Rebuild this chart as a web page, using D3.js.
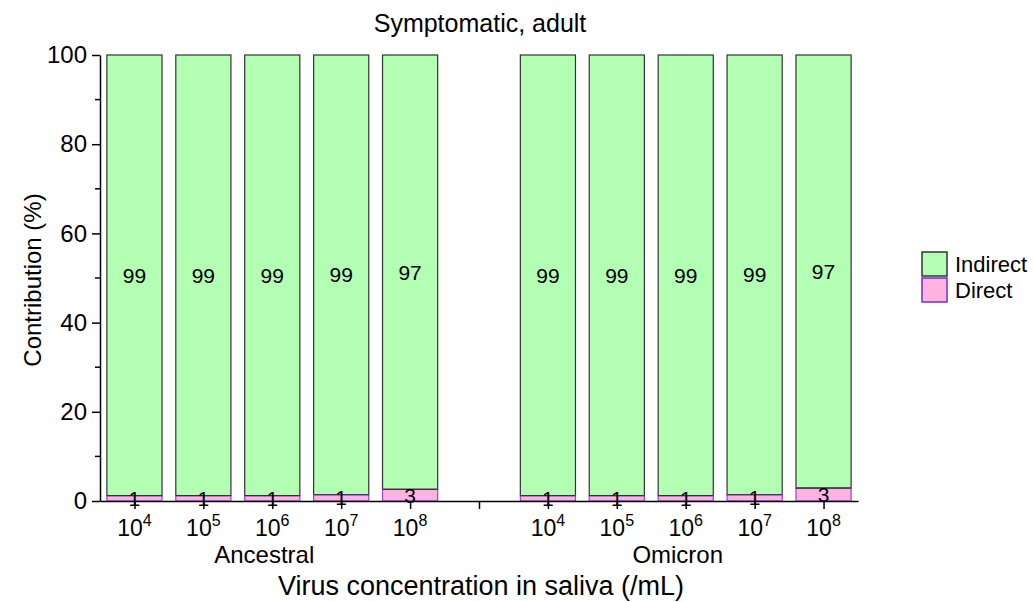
<!DOCTYPE html>
<html>
<head>
<meta charset="utf-8">
<script src="https://cdn.jsdelivr.net/npm/d3@7"></script>
<style>
body { margin: 0; background: #fff; }
text { font-family: "Liberation Sans", Arial, sans-serif; fill: #000; }
</style>
</head>
<body>
<svg id="chart" width="1033" height="602"></svg>
<script>
// data
var groups = ["Ancestral", "Omicron"];
var exponents = [4, 5, 6, 7, 8];
var directAncestral = [1.2, 1.2, 1.2, 1.4, 2.6];
var directOmicron = [1.2, 1.2, 1.2, 1.4, 2.9];
var indirectLabelsAncestral = ["99", "99", "99", "99", "97"];
var indirectLabelsOmicron = ["99", "99", "99", "99", "97"];
var directLabelsAncestral = ["1", "1", "1", "1", "3"];
var directLabelsOmicron = ["1", "1", "1", "1", "3"];
var yTicks = [0, 20, 40, 60, 80, 100];
var yMinor = [10, 30, 50, 70, 90];

var green = "#b3ffb3", pink = "#ffb3e0";

var svg = d3.select("#chart"),
margin = {top: 55, left: 100, right: 173, bottom: 101},
width = 1033 - margin.left - margin.right,
height = 602 - margin.top - margin.bottom;

var g = svg.append("g").attr("transform", "translate(" + margin.left + "," + margin.top + ")");

var x = d3.scaleLinear().domain([0.5, 11.5]).range([0, 758]);
var y = d3.scaleLinear().domain([0, 100]).range([446, 0]);

// build rows: position 1..5 ancestral, 7..11 omicron (6 is the gap)
var rows = [];
exponents.forEach(function(e, i) {
  rows.push({pos: i + 1, exp: e, direct: directAncestral[i], li: indirectLabelsAncestral[i], ld: directLabelsAncestral[i]});
});
exponents.forEach(function(e, i) {
  rows.push({pos: i + 7, exp: e, direct: directOmicron[i], li: indirectLabelsOmicron[i], ld: directLabelsOmicron[i]});
});

var bw = (x(2) - x(1)) * 0.8;

// indirect (green) on top
g.selectAll(".ind").data(rows).enter().append("rect")
  .attr("x", function(d) { return x(d.pos) - bw / 2; })
  .attr("y", y(100))
  .attr("width", bw)
  .attr("height", function(d) { return y(d.direct) - y(100); })
  .attr("fill", green).attr("stroke", "#333").attr("stroke-width", 1.2);

g.selectAll(".dir").data(rows).enter().append("rect")
  .attr("x", function(d) { return x(d.pos) - bw / 2; })
  .attr("y", function(d) { return y(d.direct); })
  .attr("width", bw)
  .attr("height", function(d) { return y(0) - y(d.direct); })
  .attr("fill", pink).attr("stroke", "#a040d0").attr("stroke-width", 1.2);

// line between segments
g.selectAll(".sep").data(rows).enter().append("line")
  .attr("x1", function(d) { return x(d.pos) - bw / 2; })
  .attr("x2", function(d) { return x(d.pos) + bw / 2; })
  .attr("y1", function(d) { return y(d.direct); })
  .attr("y2", function(d) { return y(d.direct); })
  .attr("stroke", "#333").attr("stroke-width", 1.2);

// value labels
g.selectAll(".li").data(rows).enter().append("text")
  .attr("x", function(d) { return x(d.pos); })
  .attr("y", function(d) { return y((100 + d.direct) / 2); })
  .attr("dy", "0.35em")
  .attr("text-anchor", "middle")
  .attr("font-size", 21)
  .text(function(d) { return d.li; });

g.selectAll(".ld").data(rows).enter().append("text")
  .attr("x", function(d) { return x(d.pos); })
  .attr("y", function(d) { return y(d.direct / 2); })
  .attr("dy", "0.35em")
  .attr("text-anchor", "middle")
  .attr("font-size", 21)
  .text(function(d) { return d.ld; });

// y axis
var yAxis = g.append("g")
  .call(d3.axisLeft(y).tickValues(yTicks).tickSize(8).tickPadding(5).tickSizeOuter(0));
yAxis.selectAll("text").attr("font-size", 24).style("font-family", "Liberation Sans, Arial, sans-serif");
yAxis.select(".domain").attr("stroke-width", 1.5);
yAxis.selectAll(".tick line").attr("stroke-width", 1.5);
g.selectAll(".yminor").data(yMinor).enter().append("line")
  .attr("x1", -5).attr("x2", 0)
  .attr("y1", function(d) { return y(d); }).attr("y2", function(d) { return y(d); })
  .attr("stroke", "#000").attr("stroke-width", 1.5);

// x axis
var xAxis = g.append("g")
  .attr("transform", "translate(0," + y(0) + ")")
  .call(d3.axisBottom(x).tickValues(d3.range(1, 12)).tickSize(8).tickSizeOuter(0).tickFormat(""));
xAxis.select(".domain").attr("stroke-width", 1.5);
xAxis.selectAll(".tick line").attr("stroke-width", 1.5);

var xl = g.selectAll(".xl").data(rows).enter().append("text")
  .attr("x", function(d) { return x(d.pos); })
  .attr("y", y(0) + 35)
  .attr("text-anchor", "middle")
  .attr("font-size", 23);
xl.append("tspan").text("10");
xl.append("tspan").attr("dy", -10).attr("font-size", 16).text(function(d) { return d.exp; });

g.selectAll(".grp").data(groups).enter().append("text")
  .attr("x", function(d, i) { return x(i * 6 + 3) - 8; })
  .attr("y", y(0) + 62)
  .attr("text-anchor", "middle")
  .attr("font-size", 24)
  .text(function(d) { return d; });

// titles
svg.append("text").attr("x", 480).attr("y", 32).attr("text-anchor", "middle")
  .attr("font-size", 25).text("Symptomatic, adult");
svg.append("text").attr("x", 481).attr("y", 595).attr("text-anchor", "middle")
  .attr("font-size", 27).text("Virus concentration in saliva (/mL)");
svg.append("text").attr("transform", "translate(41,280) rotate(-90)").attr("text-anchor", "middle")
  .attr("font-size", 24).text("Contribution (%)");

// legend
var legend = [{name: "Indirect", fill: green, stroke: "#333"}, {name: "Direct", fill: pink, stroke: "#7030c0"}];
var lg = svg.selectAll(".lg").data(legend).enter().append("g")
  .attr("transform", function(d, i) { return "translate(922," + (252 + i * 26) + ")"; });
lg.append("rect").attr("width", 25).attr("height", 24)
  .attr("fill", function(d) { return d.fill; })
  .attr("stroke", function(d) { return d.stroke; }).attr("stroke-width", 1.5);
lg.append("text").attr("x", 33).attr("y", 12).attr("dy", "0.35em")
  .attr("font-size", 22).text(function(d) { return d.name; });
</script>
</body>
</html>
